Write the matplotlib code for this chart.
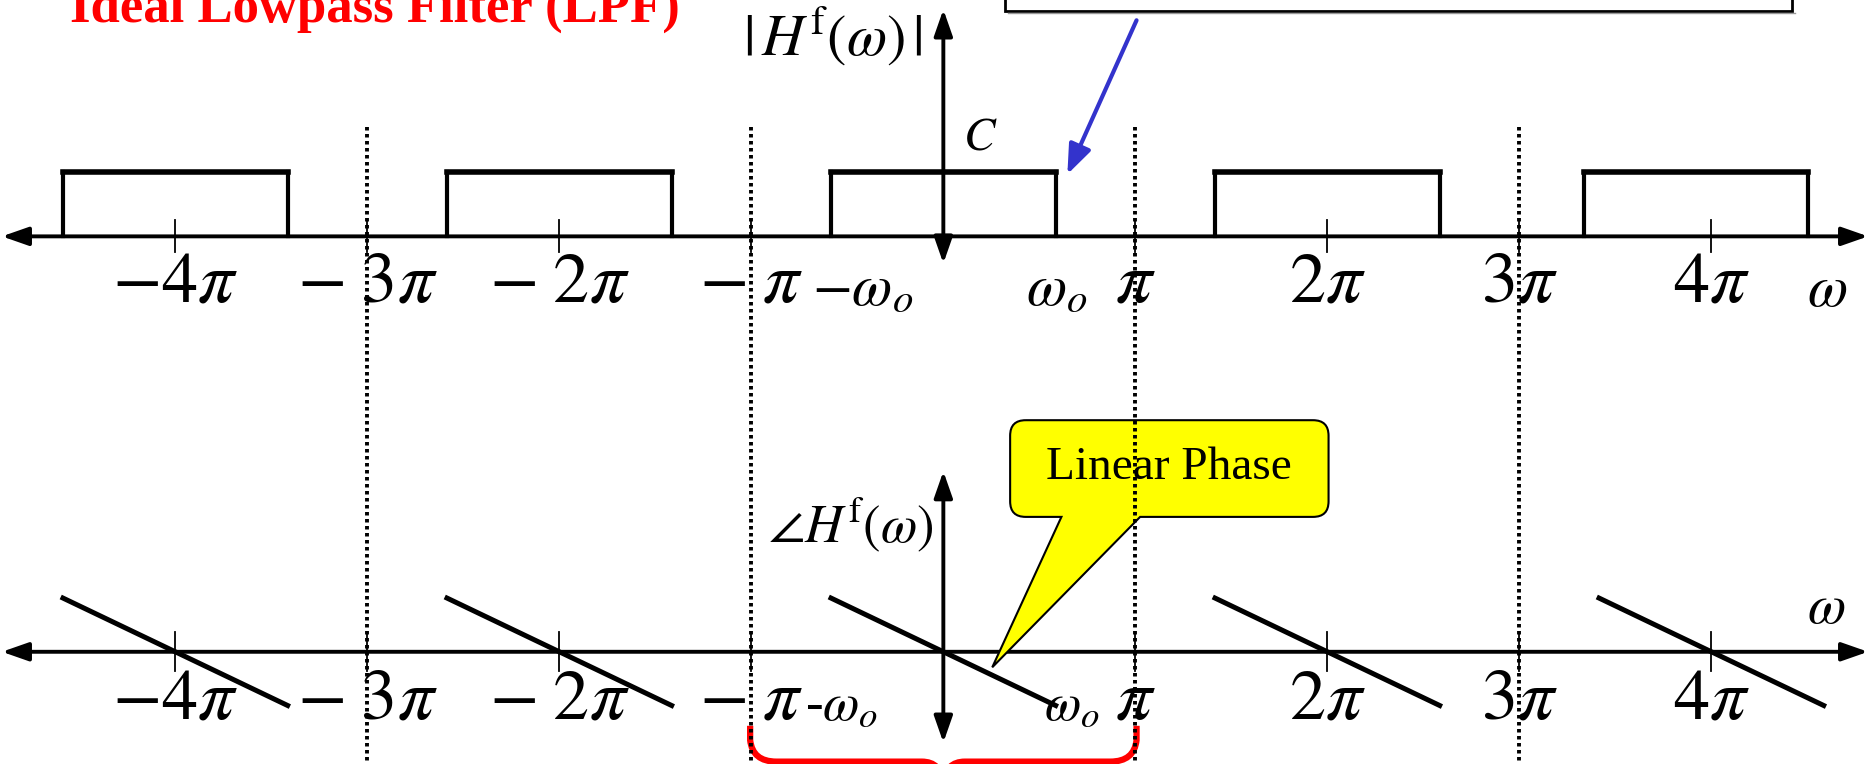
import matplotlib
matplotlib.use("Agg")
import matplotlib.pyplot as plt
import matplotlib.transforms as mtransforms
from matplotlib.path import Path
from matplotlib.patches import PathPatch, Rectangle
import numpy as np

plt.rcParams['font.family'] = ['Liberation Serif', 'DejaVu Serif']
plt.rcParams['mathtext.fontset'] = 'stix'

# data (frequency in units of pi)
mag_centers = [-4, -2, 0, 2, 3.92]   # passband centres as drawn on the slide
phase_centers = [-4, -2, 0, 2, 4]
w0 = 0.585                           # cutoff omega_o / pi
C = 1.0                              # passband gain
phase_edge = 1.0                     # phase at -omega_o (linear, -slope*omega)
odd_pi = [-3, -1, 1, 3]              # dotted lines
tick_pos = [-4, -3, -2, -1, 1, 2, 3, 4]
tick_top = [r'$-4\pi$', r'$-\;3\pi$', r'$-\;2\pi$', r'$-\;\pi$',
            r'$\pi$', r'$2\pi$', r'$3\pi$', r'$4\pi$']

W, H = 1568.0, 640.0                 # layout grid of the reference
fig = plt.figure(figsize=(18.7, 7.64), dpi=100)
P = mtransforms.Affine2D().scale(1 / W, -1 / H).translate(0, 1) + fig.transFigure

x0, xpi = 791.0, 161.0
xlim = (-x0 / xpi, (W - x0) / xpi)

# top panel: magnitude, axis at y=198, C at y=144
ax1 = fig.add_axes([0, 0.5, 1, 0.5])
ax1.set_xlim(*xlim)
ax1.set_ylim((198 - 320) / 54, 198 / 54)
# bottom panel: phase, axis at y=546, 45 px per unit
ax2 = fig.add_axes([0, 0, 1, 0.5])
ax2.set_xlim(*xlim)
ax2.set_ylim((546 - 640) / 45, (546 - 320) / 45)
for ax in (ax1, ax2):
    ax.axis('off')

arr = dict(arrowstyle='<|-|>,head_length=0.8,head_width=0.28', color='black',
           lw=2.8, mutation_scale=20, shrinkA=0, shrinkB=0)

# axes with arrows
ax1.annotate('', xy=(xlim[1] - 0.01, 0), xytext=(xlim[0] + 0.01, 0), arrowprops=arr)
ax1.annotate('', xy=(0, 3.52), xytext=(0, -0.42), arrowprops=arr)
ax2.annotate('', xy=(xlim[1] - 0.01, 0), xytext=(xlim[0] + 0.01, 0), arrowprops=arr)
ax2.annotate('', xy=(0, 3.36), xytext=(0, -1.69), arrowprops=arr)

# magnitude rectangles
for c in mag_centers:
    ax1.plot([c - w0, c - w0], [0, C], color='black', lw=3.0)
    ax1.plot([c + w0, c + w0], [0, C], color='black', lw=3.0)
    ax1.plot([c - w0, c + w0], [C, C], color='black', lw=4.0, solid_capstyle='projecting')
# phase lines
for c in phase_centers:
    ax2.plot([c - w0, c + w0], [phase_edge, -phase_edge], color='black', lw=3.6)

# small ticks
for t in tick_pos:
    ax1.plot([t, t], [-0.25, 0.25], color='black', lw=1.3)
    ax2.plot([t, t], [-0.36, 0.36], color='black', lw=1.3)

# dotted lines spanning both panels
bt = mtransforms.blended_transform_factory(ax1.transData, fig.transFigure)
for d in odd_pi:
    fig.add_artist(plt.Line2D([d, d], [1 - 106 / H, 0], transform=bt, color='black',
                              lw=2.8, linestyle=(0, (0.9, 0.9))))

# tick labels
for t, s in zip(tick_pos, tick_top):
    ax1.text(t, (198 - 238) / 54, s, fontsize=52, ha='center', va='center')
    ax2.text(t, (546 - 587) / 45, s, fontsize=52, ha='center', va='center')

ax1.text(-0.42, (198 - 244) / 54, r'$-\omega_o$', fontsize=42, ha='center', va='center')
ax1.text(0.59, (198 - 244) / 54, r'$\omega_o$', fontsize=42, ha='center', va='center')
ax1.text(4.6, (198 - 245) / 54, r'$\omega$', fontsize=42, ha='center', va='center')
ax1.text(0.1, (198 - 116) / 54, r'$C$', fontsize=34, ha='left', va='center')

ax2.text(-0.53, (546 - 592) / 45, r'-$\omega_o$', fontsize=38, ha='center', va='center')
ax2.text(0.67, (546 - 592) / 45, r'$\omega_o$', fontsize=38, ha='center', va='center')
ax2.text(4.6, (546 - 510) / 45, r'$\omega$', fontsize=40, ha='center', va='center')

fig.text(698, 31, r'$|\,H^{\mathrm{f}}(\omega)\,|$', fontsize=42, ha='center', va='center',
         transform=P)
fig.text(713, 440, r'$\angle H^{\mathrm{f}}(\omega)$', fontsize=38, ha='center', va='center',
         transform=P)

# title (cut at the top like the slide)
fig.text(314, 18, 'Ideal Lowpass Filter (LPF)', fontsize=38, fontweight='bold',
         color='#FF0000', ha='center', va='baseline', transform=P)

# top annotation box, mostly out of frame
fig.add_artist(Rectangle((843, -40), 660, 49, transform=P, facecolor='white',
                         edgecolor='black', lw=2))
fig.add_artist(plt.Line2D([845, 1505], [11, 11], transform=P, color='#999999', lw=1))

# blue arrow
fig.add_artist(matplotlib.patches.FancyArrowPatch(
    (953, 17), (895, 146), transform=P, color='#3333CC', lw=3,
    arrowstyle='-|>,head_length=0.9,head_width=0.35', mutation_scale=20,
    shrinkA=0, shrinkB=0))

# yellow callout
r = 13
bx0, bx1, by0, by1 = 847, 1114, 352, 433
verts = [(bx0 + r, by0), (bx1 - r, by0), (bx1, by0), (bx1, by0 + r), (bx1, by1 - r),
         (bx1, by1), (bx1 - r, by1), (956, by1), (832, 559), (890, by1), (bx0 + r, by1),
         (bx0, by1), (bx0, by1 - r), (bx0, by0 + r), (bx0, by0), (bx0 + r, by0)]
codes = [Path.MOVETO, Path.LINETO, Path.CURVE3, Path.CURVE3, Path.LINETO,
         Path.CURVE3, Path.CURVE3, Path.LINETO, Path.LINETO, Path.LINETO, Path.LINETO,
         Path.CURVE3, Path.CURVE3, Path.LINETO, Path.CURVE3, Path.CURVE3]
fig.add_artist(PathPatch(Path(verts, codes), transform=P, facecolor='#FFFF00',
                         edgecolor='black', lw=1.5))
fig.text(980, 392, 'Linear Phase', fontsize=34, ha='center', va='center', transform=P)

# red brace under [-pi, pi]
bl, br, bm = 629, 953, 791
yv, yh = 608, 638
bverts = [(bl, yv), (bl, yh - 18), (bl + 2, yh), (bl + 22, yh), (bm - 18, yh),
          (bm - 2, yh), (bm, yh + 18),
          (bm, yh + 18), (bm + 2, yh), (bm + 18, yh), (br - 22, yh), (br - 2, yh),
          (br, yh - 18), (br, yv)]
bcodes = [Path.MOVETO, Path.LINETO, Path.CURVE3, Path.CURVE3, Path.LINETO,
          Path.CURVE3, Path.CURVE3,
          Path.MOVETO, Path.CURVE3, Path.CURVE3, Path.LINETO, Path.CURVE3,
          Path.CURVE3, Path.LINETO]
fig.add_artist(PathPatch(Path(bverts, bcodes), transform=P, facecolor='none',
                         edgecolor='#FF0000', lw=4.5))

fig.savefig('out.png', dpi=100, facecolor='white')
